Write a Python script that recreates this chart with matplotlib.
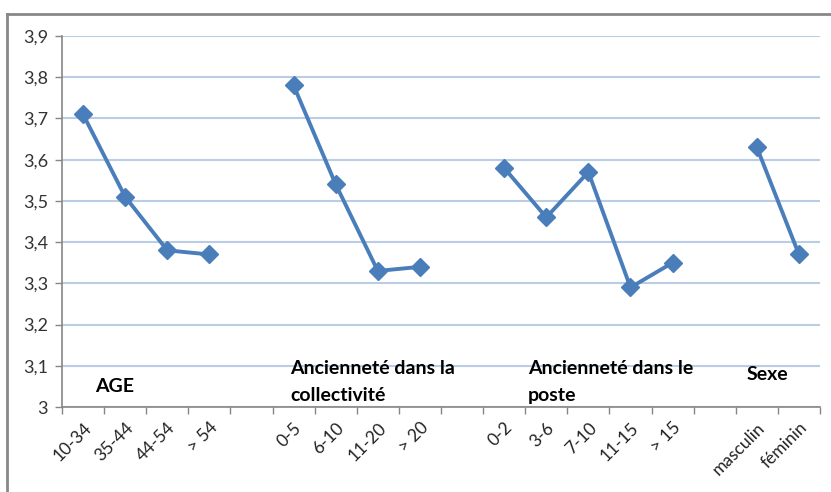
import matplotlib
matplotlib.use("Agg")
import matplotlib.pyplot as plt
import numpy as np
from matplotlib.lines import Line2D

plt.rcParams['font.family'] = ['Lato', 'DejaVu Sans']

categories = ["10-34", "35-44", "44-54", "> 54", "",
              "0-5", "6-10", "11-20", "> 20", "",
              "0-2", "3-6", "7-10", "11-15", "> 15", "",
              "masculin", "féminin"]
age_values = [3.71, 3.51, 3.38, 3.37]
collectivite_values = [3.78, 3.54, 3.33, 3.34]
poste_values = [3.58, 3.46, 3.57, 3.29, 3.35]
sexe_values = [3.63, 3.37]
group_labels = ["AGE", "Ancienneté dans la\ncollectivité", "Ancienneté dans le\nposte", "Sexe"]
y_ticks = [3.0, 3.1, 3.2, 3.3, 3.4, 3.5, 3.6, 3.7, 3.8, 3.9]
y_tick_labels = ["3", "3,1", "3,2", "3,3", "3,4", "3,5", "3,6", "3,7", "3,8", "3,9"]

groups = [(0, age_values), (5, collectivite_values), (10, poste_values), (16, sexe_values)]

fig = plt.figure(figsize=(8.31, 4.92), dpi=100)
ax = fig.add_axes([62/831, 1-407/492, (820-62)/831, (407-36)/492])

line_color = "#4A7EBB"
for start, vals in groups:
    xs = np.arange(start, start + len(vals))
    ax.plot(xs, vals, color=line_color, lw=2.8, marker="D", ms=9,
            markerfacecolor=line_color, markeredgecolor=line_color, zorder=3)

ax.set_xlim(-0.5, len(categories) - 0.5)
ax.set_ylim(3.0, 3.9)
ax.set_yticks(y_ticks)
ax.set_yticklabels(y_tick_labels)
ax.yaxis.grid(True, color="#B9CDE5", lw=1.5)
ax.set_axisbelow(True)

ax.set_xticks(np.arange(len(categories)))
ax.set_xticklabels(categories, rotation=45, ha="right", va="top",
                   rotation_mode="anchor", fontsize=12.5, color="#222222")
ax.tick_params(axis="x", length=0, pad=9)
ax.set_xticks(np.arange(-0.5, len(categories)), minor=True)
ax.tick_params(axis="x", which="minor", length=5, color="#868686", width=1)
ax.tick_params(axis="y", length=5, color="#868686", width=1, labelsize=13,
               labelcolor="#333333", pad=5)

for side in ["top", "right"]:
    ax.spines[side].set_visible(False)
for side in ["left", "bottom"]:
    ax.spines[side].set_color("#868686")
    ax.spines[side].set_linewidth(1.2)

label_pos = [(0.28, 3.049, "center"), (4.92, 3.113, "top"),
             (10.57, 3.113, "top"), (15.75, 3.078, "center")]
for (x, y, va), txt in zip(label_pos, group_labels):
    ax.text(x, y, txt, fontsize=14, fontweight="bold", ha="left", va=va,
            color="black", linespacing=1.65)

# outer chart frame (cropped)
fig.add_artist(Line2D([7/831, 7/831], [0, 1-14/492], transform=fig.transFigure,
                      color="#888888", lw=2))
fig.add_artist(Line2D([7/831, 1], [1-14/492, 1-14/492], transform=fig.transFigure,
                      color="#888888", lw=2))

fig.savefig("out.png", dpi=100)
